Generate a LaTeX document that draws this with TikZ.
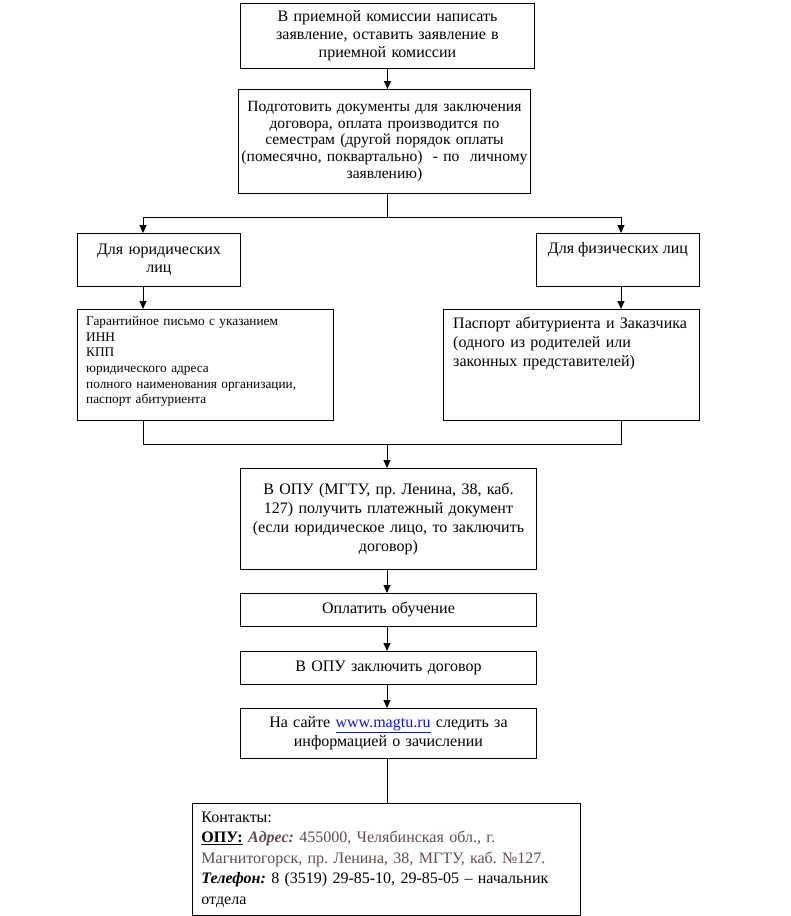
\documentclass[tikz,border=0pt]{standalone}
\usepackage{fontspec}
\setmainfont{Liberation Serif}
\usetikzlibrary{arrows.meta}
\definecolor{addr}{RGB}{97,77,77}
\definecolor{linkblue}{RGB}{20,20,220}
\frenchspacing
\begin{document}
\begin{tikzpicture}[x=1pt,y=-1pt,
  box/.style={draw=black,line width=0.9pt,inner sep=0pt,anchor=north west},
  ctext/.style={align=center,inner sep=0pt},
  ltext/.style={align=left,inner sep=0pt},
  arr/.style={line width=0.9pt,-{Triangle[width=7pt,length=8pt]}},
  ln/.style={line width=0.9pt}]
\useasboundingbox (0,0) rectangle (791,916);
\fill[white] (0,0) rectangle (791,916);

% boxes
\node[box,minimum width=294pt,minimum height=65pt,ctext,text width=290pt,
  font=\fontsize{16}{18.2}\selectfont] (b1) at (240,3)
  {В приемной комиссии написать\\заявление, оставить заявление в\\приемной комиссии};
\node[box,minimum width=292pt,minimum height=104pt,ctext,text width=288pt,
  font=\fontsize{15.6}{16.6}\selectfont] (b2) at (238,89)
  {Подготовить документы для заключения\\договора, оплата производится по\\семестрам (другой порядок оплаты\\(помесячно, поквартально)\ \ - по\ \ личному\\заявлению)};
\node[box,minimum width=163pt,minimum height=53pt,ctext,text width=159pt,
  font=\fontsize{16}{18}\selectfont] (L1) at (77,233)
  {Для юридических\\лиц};
\node[box,minimum width=163pt,minimum height=53pt] (R1) at (536,233) {};
\node[ctext,anchor=north,font=\fontsize{16}{18}\selectfont] (R1t) at ([yshift=-9pt]R1.north) {Для физических лиц};
\node[box,minimum width=256pt,minimum height=111pt] (L2) at (77,309) {};
\node[ltext,anchor=north west,text width=240pt,font=\fontsize{13.3}{15.7}\selectfont] (L2t) at (86,316)
  {Гарантийное письмо с указанием\\ИНН\\КПП\\юридического адреса\\полного наименования организации,\\паспорт абитуриента};
\node[box,minimum width=256pt,minimum height=111pt] (R2) at (443,309) {};
\node[ltext,anchor=north west,text width=240pt,font=\fontsize{16}{19}\selectfont] (R2t) at (453,317)
  {Паспорт абитуриента и Заказчика\\(одного из родителей или\\законных представителей)};
\node[box,minimum width=296pt,minimum height=101pt,ctext,text width=292pt,
  font=\fontsize{16}{18.7}\selectfont] (b3) at (240,468)
  {В ОПУ (МГТУ, пр. Ленина, 38, каб.\\127) получить платежный документ\\(если юридическое лицо, то заключить\\договор)\\[4pt]};
\node[box,minimum width=296pt,minimum height=33pt,ctext,text width=292pt,
  font=\fontsize{16}{18}\selectfont] (b4) at (240,593) {Оплатить обучение};
\node[box,minimum width=296pt,minimum height=33pt,ctext,text width=292pt,
  font=\fontsize{16}{18}\selectfont] (b5) at (240,651) {В ОПУ заключить договор};
\node[box,minimum width=296pt,minimum height=50pt,ctext,text width=292pt,
  font=\fontsize{16}{19.5}\selectfont] (b6) at (240,708)
  {На сайте \textcolor{linkblue}{\underline{www.magtu.ru}} следить за\\информацией о зачислении};
\node[box,minimum width=388pt,minimum height=112pt,ltext,text width=370pt,
  font=\fontsize{16}{20.5}\selectfont] (C) at (192,803)
  {Контакты:\\
   \textbf{\underline{ОПУ:}} \textcolor{addr}{\textbf{\textit{Адрес:}} 455000, Челябинская обл., г.}\\
   \textcolor{addr}{Магнитогорск, пр. Ленина, 38, МГТУ, каб. №127.}\\
   \textbf{\textit{Телефон:}} 8 (3519) 29-85-10, 29-85-05 – начальник\\
   отдела};

% connectors
\coordinate (split) at (387,217);
\coordinate (lj) at (143,217);
\coordinate (rj) at (621,217);
\coordinate (merge) at (387,444);
\draw[arr] (b1.south) -- (b1.south |- b2.north);
\draw[ln] (split |- b2.south) -- (split);
\draw[arr] (split) -| (L1.north -| lj);
\draw[arr] (split) -| (R1.north -| rj);
\draw[arr] (L1.south -| lj) -- (L2.north -| lj);
\draw[arr] (R1.south -| rj) -- (R2.north -| rj);
\draw[ln] (L2.south -| lj) -- (lj |- merge) -- (rj |- merge) -- (R2.south -| rj);
\draw[arr] (merge) -- (merge |- b3.north);
\draw[arr] (b3.south -| merge) -- (b4.north -| merge);
\draw[arr] (b4.south -| merge) -- (b5.north -| merge);
\draw[arr] (b5.south -| merge) -- (b6.north -| merge);
\draw[ln] (b6.south -| merge) -- (C.north -| merge);
\end{tikzpicture}
\end{document}
